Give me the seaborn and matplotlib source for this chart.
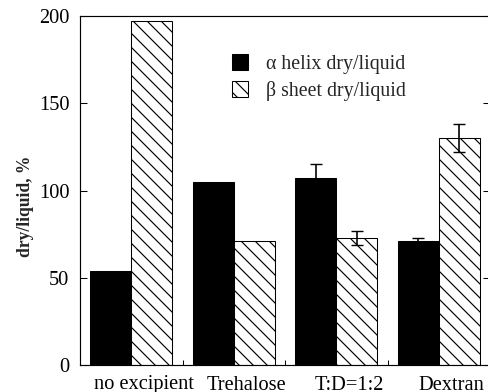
import matplotlib
matplotlib.use("Agg")
import matplotlib.pyplot as plt
from matplotlib.patches import Patch
from matplotlib.ticker import FixedLocator
from matplotlib.transforms import ScaledTranslation
import seaborn as sns
import pandas as pd
import numpy as np

categories = ["no excipient", "Trehalose", "T:D=1:2", "Dextran"]
series_names = ["\u03b1 helix dry/liquid", "\u03b2 sheet dry/liquid"]
alpha_vals = [54, 105, 107, 71]
alpha_err = [0, 0, 8, 1.5]
beta_vals = [197, 71, 73, 130]
beta_err = [0, 0, 4, 8]
yticks = [0, 50, 100, 150, 200]

DPI = 84
sns.set_theme(style="white")
plt.rcParams["font.family"] = ["Liberation Serif", "DejaVu Serif"]
plt.rcParams["hatch.linewidth"] = 1.0
plt.rcParams["hatch.color"] = "black"

df = pd.DataFrame({
    "cat": categories * 2,
    "val": alpha_vals + beta_vals,
    "err": alpha_err + beta_err,
    "series": [series_names[0]] * 4 + [series_names[1]] * 4,
})

fig = plt.figure(figsize=(488 / DPI, 392 / DPI), dpi=DPI)
ax = fig.add_axes([80 / 488, 27 / 392, 410 / 488, 349 / 392])

sns.barplot(data=df, x="cat", y="val", hue="series", order=categories,
            hue_order=series_names, palette=["black", "white"],
            edgecolor="black", linewidth=0.9, width=0.8, errorbar=None,
            legend=False, ax=ax, saturation=1)

errs = [alpha_err, beta_err]
bar_containers = list(ax.containers)[:2]
for ci, cont in enumerate(bar_containers):
    for bi, bar in enumerate(cont):
        if ci == 1:
            bar.set_hatch("\\\\")
        e = errs[ci][bi]
        if e > 0:
            xc = bar.get_x() + bar.get_width() / 2
            ax.errorbar(xc, bar.get_height(), yerr=e, color="black",
                        capsize=5, capthick=1.2, elinewidth=1.4, fmt="none",
                        zorder=5)

ax.set_xlim(-0.5, 3.5)
ax.set_ylim(0, 200)
ax.set_yticks(yticks)
ax.set_xlabel("")
ax.set_ylabel("dry/liquid, %", fontsize=15, fontweight="bold")
ax.yaxis.set_label_coords(-0.113, 0.455)

for s in ax.spines.values():
    s.set_color("black")
    s.set_linewidth(1.0)

ax.tick_params(axis="y", direction="in", length=6, width=0.9, color="black",
               left=True, right=True, labelsize=17.5, pad=9, labelcolor="black")
ax.tick_params(axis="x", which="major", length=0, labelsize=17.5, pad=9,
               labelcolor="black")
ax.xaxis.set_minor_locator(FixedLocator([0.5, 1.5, 2.5]))
ax.tick_params(axis="x", which="minor", direction="in", length=4.5, width=0.9,
               color="black", bottom=True)

shift = ScaledTranslation(13 / DPI, 0, fig.dpi_scale_trans)
for lbl in ax.get_xticklabels():
    lbl.set_transform(lbl.get_transform() + shift)

handles = [Patch(facecolor="black", edgecolor="black", linewidth=0.9),
           Patch(facecolor="white", edgecolor="black", linewidth=0.9, hatch="\\\\")]
ax.legend(handles, series_names, loc="upper left",
          bbox_to_anchor=(0.37, 0.89), frameon=False, fontsize=17,
          handlelength=0.8, handleheight=0.8, handletextpad=0.95,
          labelspacing=0.35, borderpad=0, borderaxespad=0)

fig.savefig("out.png", dpi=DPI, facecolor="white")
